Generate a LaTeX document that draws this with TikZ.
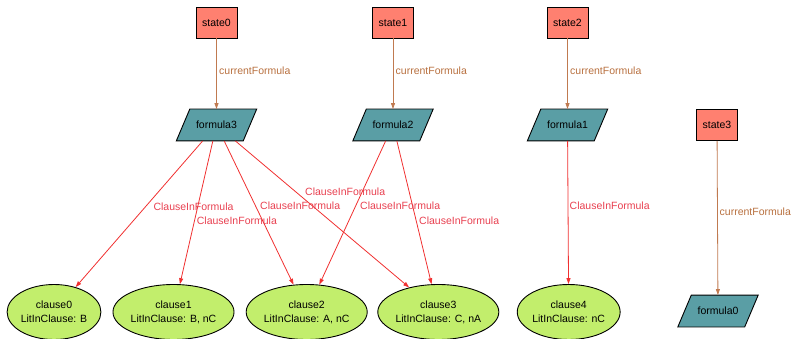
\documentclass[tikz,border=0pt]{standalone}
\usepackage{fontspec}
\setmainfont{Liberation Sans}
\usetikzlibrary{shapes.geometric,arrows.meta,backgrounds,calc}
\definecolor{statefill}{HTML}{FF8070}
\definecolor{formfill}{HTML}{5A9EA5}
\definecolor{clausefill}{HTML}{C2EE6C}
\definecolor{cfedge}{HTML}{C07A50}
\definecolor{cftext}{HTML}{B8703F}
\definecolor{ciedge}{HTML}{F03030}
\definecolor{citext}{HTML}{E84050}
\tikzset{
  every node/.style={font=\fontsize{10.5}{14}\selectfont},
  statebox/.style={draw=black, line width=0.9pt, fill=statefill, minimum width=41pt, minimum height=31pt, inner sep=0pt},
  formbox/.style={rectangle, minimum width=80pt, minimum height=31.5pt, inner sep=0pt},
  formshape/.style={draw=black, line width=0.9pt, fill=formfill, line join=miter},
  clausebox/.style={draw=black, line width=0.9pt, fill=clausefill, ellipse, minimum width=#1, minimum height=55pt, inner sep=0pt, align=center},
  cfarrow/.style={draw=cfedge, line width=0.8pt, -{Triangle[length=6pt,width=4pt]}},
  ciarrow/.style={draw=ciedge, line width=0.8pt, -{Triangle[length=6pt,width=4pt]}},
  cflabel/.style={text=cftext, anchor=west, inner sep=0pt},
  cilabel/.style={text=citext, anchor=west, inner sep=0pt},
}
\newcommand{\myparallelo}[1]{%
  \path[formshape] (#1.south west) -- ($(#1.south east)+(-13.5,0)$) -- (#1.north east) -- ($(#1.north west)+(13.5,0)$) -- cycle;}
\begin{document}
\begin{tikzpicture}[x=1pt,y=-1pt]
\useasboundingbox (0,0) rectangle (794,339);
\node[statebox] (state0) at (216.5,22.5) {state0};
\node[statebox] (state1) at (393,22.5) {state1};
\node[statebox] (state2) at (567.5,22.5) {state2};
\node[statebox] (state3) at (717,125) {state3};
\node[formbox] (formula3) at (216.5,125) {formula3};
\node[formbox] (formula2) at (393,125) {formula2};
\node[formbox] (formula1) at (567.5,125) {formula1};
\node[formbox] (formula0) at (718,311) {formula0};
\begin{scope}[on background layer]
\myparallelo{formula3}
\myparallelo{formula2}
\myparallelo{formula1}
\myparallelo{formula0}
\end{scope}
\node[clausebox=92pt] (clause0) at (54,312) {clause0\\LitInClause: B};
\node[clausebox=113pt] (clause1) at (173.5,312) {clause1\\LitInClause: B, nC};
\node[clausebox=110pt] (clause2) at (306.7,312) {clause2\\LitInClause: A, nC};
\node[clausebox=110pt] (clause3) at (438.3,312) {clause3\\LitInClause: C, nA};
\node[clausebox=97pt] (clause4) at (568.7,312) {clause4\\LitInClause: nC};
\draw[cfarrow] (state0) -- (formula3);
\draw[cfarrow] (state1) -- (formula2);
\draw[cfarrow] (state2) -- (formula1);
\draw[cfarrow] (state3) -- (formula0);
\draw[ciarrow] (formula3) -- (clause0);
\draw[ciarrow] (formula3) -- (clause1);
\draw[ciarrow] (formula3) -- (clause2);
\draw[ciarrow] (formula3) -- (clause3);
\draw[ciarrow] (formula2) -- (clause2);
\draw[ciarrow] (formula2) -- (clause3);
\draw[ciarrow] (formula1) -- (clause4);
\node[cflabel] (l0) at (219,71) {currentFormula};
\node[cflabel] (l1) at (395.5,71) {currentFormula};
\node[cflabel] (l2) at (570,71) {currentFormula};
\node[cflabel] (l3) at (719.5,212) {currentFormula};
\node[cilabel] (m1) at (153.3,206.7) {ClauseInFormula};
\node[cilabel] (m2) at (196.7,220.7) {ClauseInFormula};
\node[cilabel] (m3) at (260,206) {ClauseInFormula};
\node[cilabel] (m4) at (305,191.7) {ClauseInFormula};
\node[cilabel] (m5) at (360,206) {ClauseInFormula};
\node[cilabel] (m6) at (419,220.7) {ClauseInFormula};
\node[cilabel] (m7) at (569.5,206) {ClauseInFormula};
\end{tikzpicture}
\end{document}
